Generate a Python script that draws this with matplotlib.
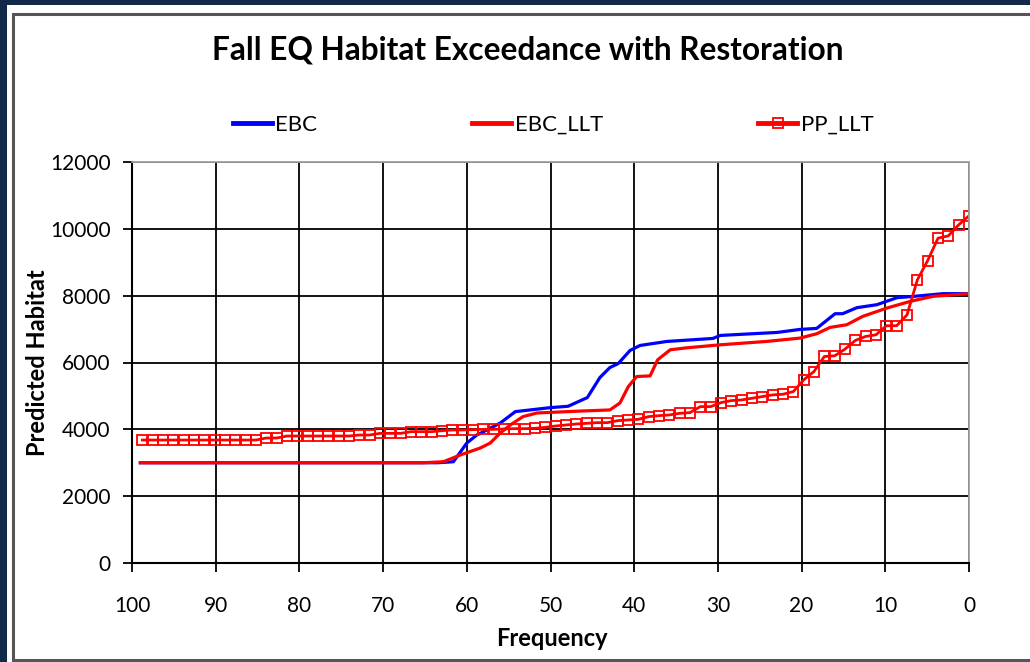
import numpy as np
import matplotlib.pyplot as plt
from matplotlib.patches import Rectangle

# EBC curve (exceedance %, habitat)
ebc_freq = [99, 63.5, 61.6, 60.0, 58.8, 57.6, 56.0, 54.2, 50.0, 47.9, 45.6, 44.1,
            42.9, 41.9, 40.5, 39.3, 36.1, 30.6, 29.7, 22.9, 20.2, 18.2, 16.0, 15.1,
            13.4, 11.0, 8.6, 7.0, 3.1, 0]
ebc_hab = [3000, 3000, 3030, 3590, 3830, 3980, 4190, 4530, 4650, 4690, 4950, 5550,
           5850, 5970, 6360, 6510, 6630, 6720, 6810, 6900, 6990, 7020, 7460, 7460,
           7640, 7730, 7940, 7970, 8060, 8060]

# EBC_LLT curve
llt_freq = [99, 65.2, 62.8, 60.8, 58.4, 57.2, 56.0, 54.8, 53.3, 51.6, 46.1, 42.9,
            41.7, 40.7, 39.7, 38.1, 37.2, 35.7, 33.7, 29.7, 24.2, 20.2, 18.2, 16.6,
            14.6, 12.7, 9.8, 7.0, 4.3, 0]
llt_hab = [3000, 3000, 3030, 3230, 3440, 3590, 3890, 4130, 4380, 4490, 4550, 4580,
           4790, 5280, 5580, 5600, 6080, 6380, 6440, 6530, 6630, 6730, 6860, 7050,
           7130, 7380, 7630, 7830, 7980, 8060]

# PP_LLT ranked values, wettest first (plotted at exceedance positions)
pp_hab = [10390, 10120, 9790, 9720, 9050, 8470, 7425, 7100, 7100, 6830,
          6780, 6660, 6400, 6200, 6180, 5730, 5480, 5130, 5050, 5030,
          4980, 4930, 4880, 4860, 4800, 4680, 4680, 4500, 4480, 4430,
          4410, 4380, 4300, 4280, 4260, 4200, 4200, 4180, 4160, 4130,
          4100, 4060, 4030, 4020, 4020, 4010, 4000, 4000, 3990, 3980,
          3980, 3960, 3930, 3930, 3930, 3880, 3880, 3880, 3830, 3830,
          3800, 3800, 3800, 3800, 3800, 3800, 3800, 3740, 3740, 3680,
          3680, 3680, 3680, 3680, 3680, 3680, 3680, 3680, 3680, 3680, 3680]
pp_freq = np.arange(len(pp_hab)) * 100.0 / len(pp_hab)

plt.rcParams['font.family'] = ['Lato', 'DejaVu Sans']

fig = plt.figure(figsize=(10.3, 6.62), dpi=100)
fig.patch.set_facecolor('#12294a')

# white page and chart frame
fig.patches.append(Rectangle((7 / 1030, 0), 1.0, 657 / 662, transform=fig.transFigure,
                             facecolor='white', edgecolor='none', zorder=-2))
fig.patches.append(Rectangle((12.5 / 1030, 2 / 662), 1.05, 646 / 662, transform=fig.transFigure,
                             facecolor='white', edgecolor='#555555', lw=2.2, zorder=-1))

ax = fig.add_axes([132 / 1030, 1 - 563 / 662, 837 / 1030, 401 / 662])

ax.plot(ebc_freq, ebc_hab, color='#0000ff', lw=2.3, label='EBC')
ax.plot(llt_freq, llt_hab, color='#ff0000', lw=2.3, label='EBC_LLT')
ax.plot(pp_freq, pp_hab, color='#ff0000', lw=2.0, marker='s', markersize=7,
        markerfacecolor='none', markeredgecolor='#ff0000', markeredgewidth=1.3,
        label='PP_LLT')

ax.set_xlim(100, 0)
ax.set_ylim(0, 12000)
ax.set_xticks(np.arange(100, -1, -10))
ax.set_yticks(np.arange(0, 12001, 2000))
ax.grid(True, color='black', lw=1.3)
ax.set_axisbelow(True)

for s in ['top', 'right']:
    ax.spines[s].set_color('#a0a0a0')
    ax.spines[s].set_linewidth(1.3)
for s in ['left', 'bottom']:
    ax.spines[s].set_color('black')
    ax.spines[s].set_linewidth(1.5)

ax.tick_params(axis='both', direction='out', length=6.5, width=1.3, labelsize=15,
               colors='black')
ax.tick_params(axis='x', pad=17)
ax.tick_params(axis='y', pad=9)

fig.text(0.512, 1 - 50 / 662, 'Fall EQ Habitat Exceedance with Restoration',
         ha='center', va='center', fontsize=22.8, fontweight='bold')
fig.text(38 / 1030, 1 - 363 / 662, 'Predicted Habitat', rotation=90,
         ha='center', va='center', fontsize=17, fontweight='bold')
fig.text(552 / 1030, 1 - 638 / 662, 'Frequency', ha='center', va='center',
         fontsize=17, fontweight='bold')

leg = fig.legend(loc='center', bbox_to_anchor=(553 / 1030, 1 - 125 / 662), ncol=3,
                 frameon=False, fontsize=16, handlelength=1.75, handletextpad=0.15,
                 columnspacing=7.0)
for h in leg.legend_handles:
    h.set_linewidth(3.5)

fig.savefig('out.png', dpi=100, facecolor=fig.get_facecolor())
